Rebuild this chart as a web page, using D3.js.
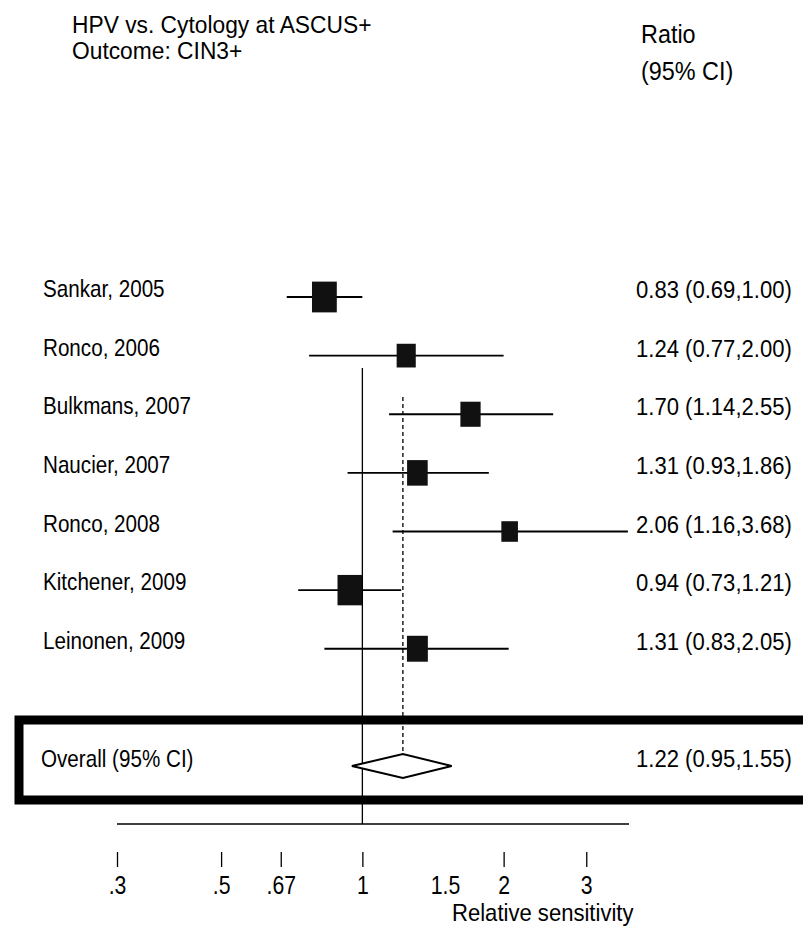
<!DOCTYPE html>
<html>
<head>
<meta charset="utf-8">
<script src="https://cdnjs.cloudflare.com/ajax/libs/d3/7.8.5/d3.min.js"></script>
<style>
  body { margin: 0; background: #fff; }
  svg text { font-family: "Liberation Sans", Arial, sans-serif; fill: #000; }
</style>
</head>
<body>
<div id="chart"></div>
<script>
var studies = ["Sankar, 2005", "Ronco, 2006", "Bulkmans, 2007", "Naucier, 2007",
               "Ronco, 2008", "Kitchener, 2009", "Leinonen, 2009"];
var ratio = [0.83, 1.24, 1.70, 1.31, 2.06, 0.94, 1.31];
var lower = [0.69, 0.77, 1.14, 0.93, 1.16, 0.73, 0.83];
var upper = [1.00, 2.00, 2.55, 1.86, 3.68, 1.21, 2.05];
var weight = [19.7, 11.7, 13.1, 13.6, 8.8, 19.2, 14.0];

var overall = {label: "Overall (95% CI)", ratio: 1.22, lower: 0.95, upper: 1.55};

var tickValues = [0.3, 0.5, 0.67, 1, 1.5, 2, 3];
var tickLabels = [".3", ".5", ".67", "1", "1.5", "2", "3"];

var fmt = d3.format(".2f");
var ciText = function(r, lo, hi) {
  return fmt(r) + " (" + fmt(lo) + "," + fmt(hi) + ")";
};

var W = 803, H = 931;
var svg = d3.select("#chart").append("svg")
  .attr("width", W).attr("height", H);

// the scanned type is tall and narrow, so squeeze it horizontally
var label = function(parent, x, y, str, size, sx) {
  return parent.append("text")
    .attr("transform", "translate(" + x + "," + y + ") scale(" + sx + ",1)")
    .style("font-size", size + "px")
    .text(str);
};

var x = d3.scaleLog().domain([0.3, 3.7]).range([117, 629]);
// 9 row slots: 7 studies, one blank, overall
var y = d3.scaleLinear().domain([0, 8]).range([297, 766]);
var boxW = d3.scaleSqrt().domain([0, 20]).range([0, 25]);

// headers
label(svg, 72, 33, "HPV vs. Cytology at ASCUS+", 24, 0.95);
label(svg, 72, 59, "Outcome: CIN3+", 24, 0.95);
label(svg, 641, 43, "Ratio", 26, 0.9);
label(svg, 641, 80, "(95% CI)", 26, 0.9);

// reference line at 1 and dashed line at overall estimate
svg.append("line")
  .attr("x1", x(1)).attr("x2", x(1))
  .attr("y1", 368).attr("y2", 824)
  .attr("stroke", "#000").attr("stroke-width", 1.3);
svg.append("line")
  .attr("x1", x(overall.ratio)).attr("x2", x(overall.ratio))
  .attr("y1", 397).attr("y2", y(8) + 11)
  .attr("stroke", "#000").attr("stroke-width", 1.3)
  .attr("stroke-dasharray", "4,3");

var rows = studies.map(function(s, i) {
  return {label: s, ratio: ratio[i], lower: lower[i], upper: upper[i], w: weight[i], i: i};
});

var g = svg.append("g").selectAll("g.row").data(rows).enter()
  .append("g").attr("class", "row");

g.each(function(d) {
  var row = d3.select(this);
  label(row, 43, y(d.i), d.label, 24, 0.86);
  label(row, 636, y(d.i) + 1, ciText(d.ratio, d.lower, d.upper), 24, 0.92);
});

g.append("line")
  .attr("x1", function(d) { return x(d.lower); })
  .attr("x2", function(d) { return x(d.upper); })
  .attr("y1", function(d) { return y(d.i); })
  .attr("y2", function(d) { return y(d.i); })
  .attr("stroke", "#000").attr("stroke-width", 1.8);

g.append("rect")
  .attr("x", function(d) { return x(d.ratio) - boxW(d.w) / 2; })
  .attr("y", function(d) { return y(d.i) - boxW(d.w) * 0.62; })
  .attr("width", function(d) { return boxW(d.w); })
  .attr("height", function(d) { return boxW(d.w) * 1.24; })
  .attr("fill", "#111");

// overall row
var yo = y(8);
svg.append("rect")
  .attr("x", 19).attr("y", 720)
  .attr("width", 800).attr("height", 80)
  .attr("fill", "none").attr("stroke", "#000").attr("stroke-width", 9);

svg.append("path")
  .attr("d", "M" + x(overall.lower) + "," + yo +
             "L" + x(overall.ratio) + "," + (yo - 12) +
             "L" + x(overall.upper) + "," + yo +
             "L" + x(overall.ratio) + "," + (yo + 12) + "Z")
  .attr("fill", "#fff").attr("stroke", "#000").attr("stroke-width", 2);

label(svg, 41, yo + 1, overall.label, 24, 0.86);
label(svg, 636, yo + 1, ciText(overall.ratio, overall.lower, overall.upper), 24, 0.92);

// axis
svg.append("line")
  .attr("x1", x.range()[0]).attr("x2", x.range()[1])
  .attr("y1", 824).attr("y2", 824)
  .attr("stroke", "#000").attr("stroke-width", 1.5);

var axis = d3.axisBottom(x)
  .tickValues(tickValues)
  .tickFormat(function(d, i) { return tickLabels[i]; })
  .tickSize(15).tickPadding(9);

var ax = svg.append("g").attr("transform", "translate(0,852)").call(axis);
ax.select(".domain").remove();
ax.selectAll(".tick line").attr("stroke", "#000").attr("stroke-width", 1.3)
  .filter(function(d) { return d === 1.5; }).remove();
ax.selectAll(".tick text")
  .attr("transform", "scale(0.85,1)")
  .style("font-size", "25px")
  .style("font-family", "'Liberation Sans', Arial, sans-serif");

label(svg, 452, 921, "Relative sensitivity", 24, 0.92);
</script>
</body>
</html>
